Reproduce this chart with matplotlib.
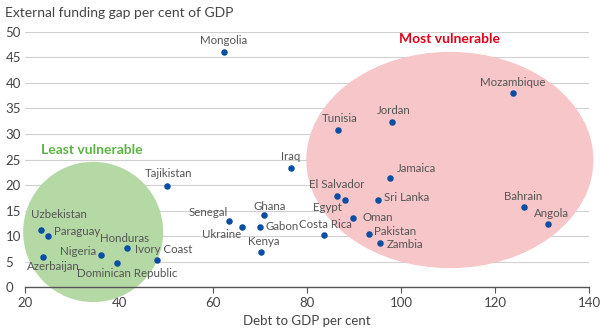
import matplotlib.pyplot as plt
from matplotlib.patches import Ellipse

plt.rcParams['font.family'] = ['Lato', 'DejaVu Sans']

# data
countries = ['Mongolia', 'Mozambique', 'Jordan', 'Tunisia', 'Iraq', 'Jamaica',
             'El Salvador', 'Egypt', 'Sri Lanka', 'Oman', 'Costa Rica', 'Pakistan',
             'Zambia', 'Bahrain', 'Angola', 'Tajikistan', 'Ghana', 'Senegal',
             'Ukraine', 'Gabon', 'Kenya', 'Uzbekistan', 'Paraguay', 'Azerbaijan',
             'Nigeria', 'Honduras', 'Dominican Republic', 'Ivory Coast']
debt = [62.3, 123.8, 98.1, 86.6, 76.6, 97.7, 86.4, 88.1, 95.1, 89.8, 83.6, 93.2,
        95.5, 126.2, 131.3, 50.2, 70.8, 63.4, 66.2, 70.0, 70.3, 23.4, 24.9, 23.8,
        36.2, 41.7, 39.6, 48.1]
gap = [46.0, 38.0, 32.3, 30.8, 23.3, 21.4, 17.8, 17.0, 17.0, 13.5, 10.2, 10.4,
       8.6, 15.7, 12.3, 19.8, 14.1, 12.9, 11.8, 11.8, 6.9, 11.2, 10.0, 5.9,
       6.3, 7.6, 4.7, 5.3]

# label placement: offset in pixels and alignment
label_pos = {
    'Mongolia': (0, 12, 'center'), 'Mozambique': (0, 11, 'center'),
    'Jordan': (2, 12, 'center'), 'Tunisia': (2, 11, 'center'),
    'Iraq': (0, 12, 'center'), 'Jamaica': (7, 9, 'left'),
    'El Salvador': (0, 12, 'center'), 'Egypt': (-3, -7, 'right'),
    'Sri Lanka': (6, 3, 'left'), 'Oman': (9, 1, 'left'),
    'Costa Rica': (1, 11, 'center'), 'Pakistan': (5, 2, 'left'),
    'Zambia': (7, -1, 'left'), 'Bahrain': (-1, 10, 'center'),
    'Angola': (3, 11, 'center'), 'Tajikistan': (2, 13, 'center'),
    'Ghana': (6, 9, 'center'), 'Senegal': (-1, 9, 'right'),
    'Ukraine': (-1, -8, 'right'), 'Gabon': (5, 0, 'left'),
    'Kenya': (2, 10, 'center'), 'Uzbekistan': (-10, 15, 'left'),
    'Paraguay': (6, 5, 'left'), 'Azerbaijan': (-16, -10, 'left'),
    'Nigeria': (-5, 3, 'right'), 'Honduras': (-2, 10, 'center'),
    'Dominican Republic': (10, -10, 'center'), 'Ivory Coast': (7, 11, 'center'),
}

fig = plt.figure(figsize=(6, 3.33), dpi=100)
ax = fig.add_axes([0.0417, 0.138, 0.94, 0.766])

ax.add_patch(Ellipse((110.4, 24.9), 61.1, 42.4, color='#f6c6c9', lw=0,
                     zorder=1, clip_on=False))
ax.add_patch(Ellipse((34.5, 10.8), 29.8, 27.5, color='#b5d9a5', lw=0,
                     zorder=1, clip_on=False))

ax.scatter(debt, gap, s=22, color='#0a4ea3', zorder=3, linewidths=0)
for c, x, y in zip(countries, debt, gap):
    dx, dy, ha = label_pos[c]
    ax.annotate(c, (x, y), xytext=(dx, dy), textcoords='offset pixels',
                ha=ha, va='center', fontsize=8.3, color='#555555', zorder=4)

ax.text(110.4, 48.6, 'Most vulnerable', color='#e2001a', fontsize=10,
        fontweight='bold', ha='center', va='center')
ax.text(34.3, 26.9, 'Least vulnerable', color='#5cb346', fontsize=10,
        fontweight='bold', ha='center', va='center')

ax.set_xlim(20, 140)
ax.set_ylim(0, 50)
ax.set_xticks(range(20, 141, 20))
ax.set_yticks(range(0, 51, 5))
ax.yaxis.grid(True, color='#d0d0d0', lw=0.8, zorder=0)
ax.set_axisbelow(True)
for s in ['left', 'right', 'top']:
    ax.spines[s].set_visible(False)
ax.spines['bottom'].set_color('#555555')
ax.spines['bottom'].set_linewidth(1)
ax.tick_params(axis='x', length=4, color='#555555', labelsize=9.5,
               labelcolor='#444444')
ax.tick_params(axis='y', length=0, pad=14, labelsize=9.5, labelcolor='#444444')
for lbl in ax.get_yticklabels():
    lbl.set_horizontalalignment('left')

ax.set_xlabel('Debt to GDP per cent', fontsize=9.5, color='#444444', labelpad=4)
fig.text(0.008, 0.96, 'External funding gap per cent of GDP', fontsize=10,
         color='#444444', va='center')

fig.savefig('out.png', dpi=100)
